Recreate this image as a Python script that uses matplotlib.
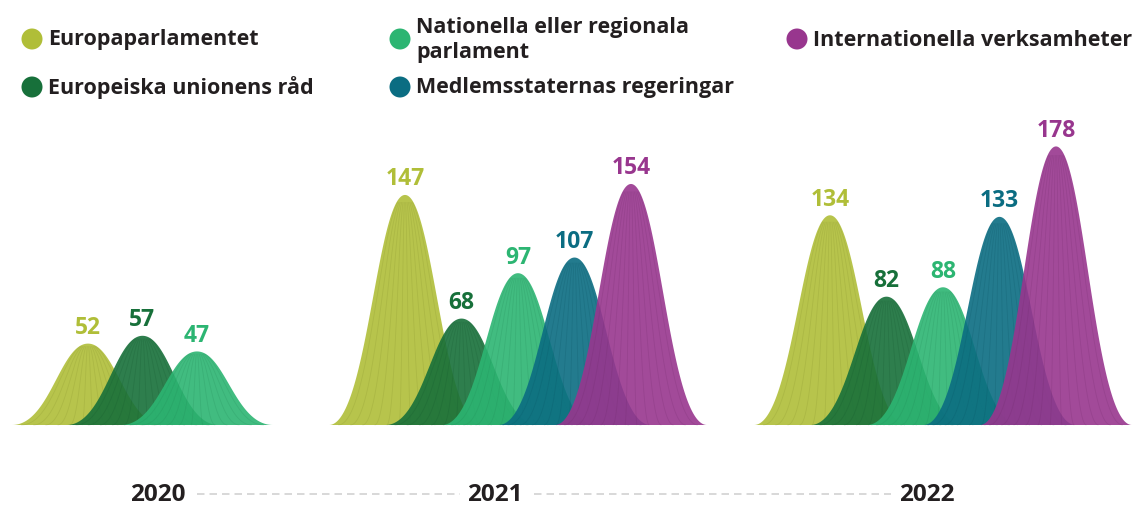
import numpy as np
import matplotlib
matplotlib.use("Agg")
import matplotlib.pyplot as plt
from matplotlib.patches import Ellipse

plt.rcParams['font.family'] = ['Open Sans', 'DejaVu Sans']

# ---- data ----
years = ["2020", "2021", "2022"]
series = ["Europaparlamentet", "Europeiska unionens råd",
          "Nationella eller regionala\nparlament", "Medlemsstaternas regeringar",
          "Internationella verksamheter"]
colors = ["#b0be38", "#17703a", "#2cb572", "#0b6d82", "#98368e"]
values_2020 = [52, 57, 47]
values_2021 = [147, 68, 97, 107, 154]
values_2022 = [134, 82, 88, 133, 178]
values = [values_2020, values_2021, values_2022]

# ---- layout (pixel-like x, value y) ----
W, H = 1132, 506
baseline_px = 426
px_per_unit = 1.565
group_first_peak = [88, 405, 830]
peak_spacing = [54.5, 56.5, 56.5]
half_base = 76.0
# bezier bell profile (left half): base -> peak
P1x, P2x = -38.0, -28.0

fig = plt.figure(figsize=(W / 100, H / 100), dpi=100)
ax = fig.add_axes([0, 0, 1, 1])
ax.set_xlim(0, W)
ax.set_ylim(-(H - baseline_px) / px_per_unit, baseline_px / px_per_unit)
ax.axis('off')

t = np.linspace(0, 1, 200)
bx = ((1 - t) ** 3 * (-half_base) + 3 * (1 - t) ** 2 * t * P1x
      + 3 * (1 - t) * t ** 2 * P2x)
by = 3 * (1 - t) * t ** 2 + t ** 3


def darker(c, f=0.72):
    r, g, b = matplotlib.colors.to_rgb(c)
    return (r * f, g * f, b * f)


z = 2
for gi, vals in enumerate(values):
    for si, v in enumerate(vals):
        c = group_first_peak[gi] + si * peak_spacing[gi]
        xs = np.concatenate([c + bx, c - bx[::-1]])
        ys = np.concatenate([by * v, by[::-1] * v])
        ax.fill(xs, ys, color=colors[si], alpha=0.9, lw=0, zorder=z)
        # stripes (stop slightly below the peak so they don't merge)
        m = by < 0.97
        for s in np.linspace(-0.88, 0.88, 12):
            ax.plot(c + s * (-bx[m]), by[m] * v, color=darker(colors[si]),
                    lw=0.6, alpha=0.2, zorder=z + 0.5, solid_capstyle='butt')
        ax.text(c, v + 3.0, str(v), color=colors[si], fontsize=16.5,
                fontweight='bold', ha='center', va='bottom', zorder=20)
        z += 1

# ---- year axis ----
year_x = [158, 495, 927]
year_y = -(495 - baseline_px) / px_per_unit
for x, yr in zip(year_x, years):
    ax.text(x, year_y, yr, fontsize=17.5, fontweight='bold', color='#231f20',
            ha='center', va='center')
seg = [(197, 460), (534, 891)]
for a, b in seg:
    ax.plot([a, b], [year_y, year_y], color='#d2d2d2', lw=1.2,
            ls=(0, (4.5, 3)))

# ---- legend ----
def ypx(p):
    return (baseline_px - p) / px_per_unit

leg = [(32, 40, 0, "Europaparlamentet", 40),
       (32, 88, 1, "Europeiska unionens råd", 88),
       (400, 40, 2, "Nationella eller regionala\nparlament", 40),
       (400, 88, 3, "Medlemsstaternas regeringar", 88),
       (797, 40, 4, "Internationella verksamheter", 40)]
for cx, cy, si, label, ty in leg:
    e = Ellipse((cx, ypx(cy)), width=21, height=21 / px_per_unit,
                color=colors[si], lw=0, zorder=10)
    ax.add_patch(e)
    ax.text(cx + 16, ypx(ty), label, fontsize=15.5, fontweight='bold',
            color='#231f20', ha='left', va='center', linespacing=1.25)

fig.savefig("out.png", dpi=100)
